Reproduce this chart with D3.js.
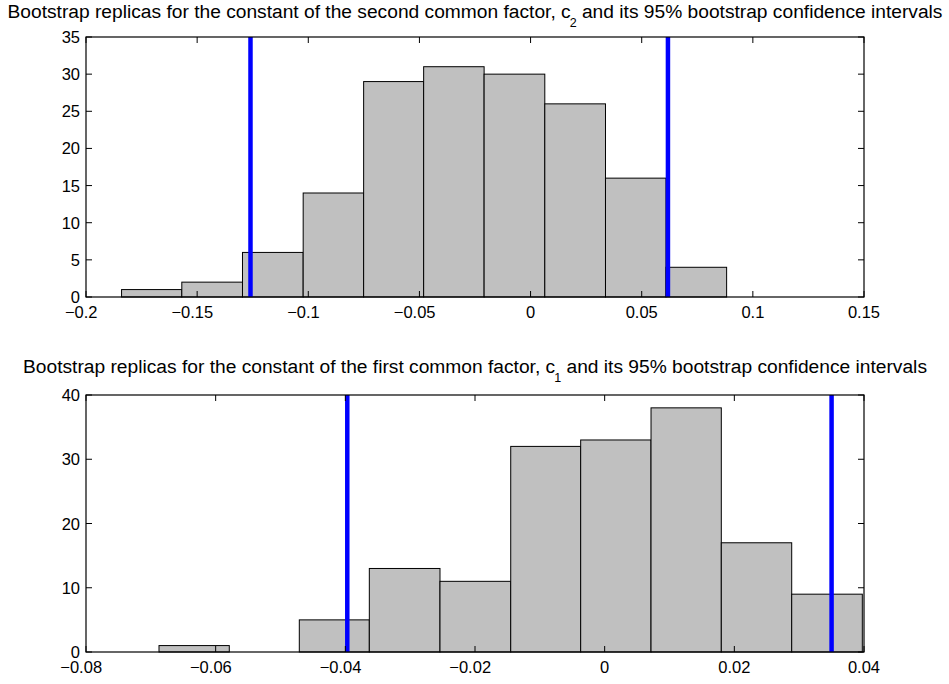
<!DOCTYPE html>
<html>
<head>
<meta charset="utf-8">
<script src="https://cdn.jsdelivr.net/npm/d3@7"></script>
<style>
  body { margin: 0; background: #fff; }
  text { font-family: "Liberation Sans", Arial, Helvetica, sans-serif; fill: #000; }
</style>
</head>
<body>
<div id="chart"></div>
<script>
// Bootstrap histograms with confidence interval lines

const svgWidth = 949;
const svgHeight = 684;

// Top panel: constant of the second common factor, c2
const c2Edges = [-0.1840, -0.1569, -0.1296, -0.1023, -0.0751, -0.0481, -0.0209, 0.0064, 0.0337, 0.0609, 0.0882];
const c2Counts = [1, 2, 6, 14, 29, 31, 30, 26, 16, 4];
const c2Ci = [-0.1260, 0.0618];
const c2XTicks = [-0.2, -0.15, -0.1, -0.05, 0, 0.05, 0.1, 0.15];
const c2YTicks = [0, 5, 10, 15, 20, 25, 30, 35];

// Bottom panel: constant of the first common factor, c1
const c1Edges = [-0.06874, -0.05790, -0.04710, -0.03630, -0.02540, -0.01449, -0.00370, 0.00715, 0.01799, 0.02885, 0.03974];
const c1Counts = [1, 0, 5, 13, 11, 32, 33, 38, 17, 9];
const c1Ci = [-0.0397, 0.0350];
const c1XTicks = [-0.08, -0.06, -0.04, -0.02, 0, 0.02, 0.04];
const c1YTicks = [0, 10, 20, 30, 40];

const svg = d3.select("#chart")
    .append("svg")
    .attr("width", svgWidth)
    .attr("height", svgHeight);

const fmt = v => (v < 0 ? "\u2212" : "") + String(Math.abs(v));

function drawPanel(opts) {
    const { left, right, top, bottom, xDomain, yDomain, edges, counts, ci, xTicks, yTicks, title, sub, titleY } = opts;

    const x = d3.scaleLinear().domain(xDomain).range([left, right]);
    const y = d3.scaleLinear().domain(yDomain).range([bottom, top]);
    const tick = 6;

    const g = svg.append("g");

    // bars
    const bins = counts.map((c, i) => ({ x0: edges[i], x1: edges[i + 1], n: c }));
    g.selectAll("rect.bar")
        .data(bins)
        .enter()
        .append("rect")
        .attr("class", "bar")
        .attr("x", d => x(d.x0))
        .attr("y", d => y(d.n))
        .attr("width", d => x(d.x1) - x(d.x0))
        .attr("height", d => y(0) - y(d.n))
        .attr("fill", "#c0c0c0")
        .attr("stroke", "#000")
        .attr("stroke-width", 1);

    // confidence interval lines
    g.selectAll("line.ci")
        .data(ci)
        .enter()
        .append("line")
        .attr("x1", d => x(d))
        .attr("x2", d => x(d))
        .attr("y1", top)
        .attr("y2", bottom)
        .attr("stroke", "#0000ff")
        .attr("stroke-width", 4.5);

    // x ticks, bottom and top (inward)
    xTicks.forEach(t => {
        g.append("line")
            .attr("x1", x(t)).attr("x2", x(t))
            .attr("y1", bottom).attr("y2", bottom - tick)
            .attr("stroke", "#000");
        g.append("line")
            .attr("x1", x(t)).attr("x2", x(t))
            .attr("y1", top).attr("y2", top + tick)
            .attr("stroke", "#000");
        // the minus sign hangs to the left of the centred number
        g.append("text")
            .attr("x", x(t) - (t < 0 ? 4.8 : 0))
            .attr("y", bottom + 21)
            .attr("text-anchor", "middle")
            .style("font-size", "16.5px")
            .text(fmt(t));
    });

    // y ticks, left and right (inward)
    yTicks.forEach(t => {
        g.append("line")
            .attr("x1", left).attr("x2", left + tick)
            .attr("y1", y(t)).attr("y2", y(t))
            .attr("stroke", "#000");
        g.append("line")
            .attr("x1", right).attr("x2", right - tick)
            .attr("y1", y(t)).attr("y2", y(t))
            .attr("stroke", "#000");
        g.append("text")
            .attr("x", left - 6)
            .attr("y", y(t) + 6)
            .attr("text-anchor", "end")
            .style("font-size", "16.5px")
            .text(t);
    });

    // box
    g.append("rect")
        .attr("x", left)
        .attr("y", top)
        .attr("width", right - left)
        .attr("height", bottom - top)
        .attr("fill", "none")
        .attr("stroke", "#000")
        .attr("stroke-width", 1.2);

    // title with subscript
    const t = g.append("text")
        .attr("x", (left + right) / 2)
        .attr("y", titleY)
        .attr("text-anchor", "middle")
        .style("font-size", "19.2px");
    t.append("tspan").text(title[0]);
    t.append("tspan").attr("dx", -1).attr("dy", 8.5).style("font-size", "12.5px").text(sub);
    t.append("tspan").attr("dy", -8.5).text(title[1]);
}

drawPanel({
    left: 86, right: 864, top: 37, bottom: 297,
    xDomain: [-0.2, 0.15], yDomain: [0, 35],
    edges: c2Edges, counts: c2Counts, ci: c2Ci,
    xTicks: c2XTicks, yTicks: c2YTicks,
    title: ["Bootstrap replicas for the constant of the second common factor, c", " and its 95% bootstrap confidence intervals"],
    sub: "2", titleY: 18
});

drawPanel({
    left: 86, right: 864, top: 395, bottom: 652,
    xDomain: [-0.08, 0.04], yDomain: [0, 40],
    edges: c1Edges, counts: c1Counts, ci: c1Ci,
    xTicks: c1XTicks, yTicks: c1YTicks,
    title: ["Bootstrap replicas for the constant of the first common factor, c", " and its 95% bootstrap confidence intervals"],
    sub: "1", titleY: 373
});
</script>
</body>
</html>
